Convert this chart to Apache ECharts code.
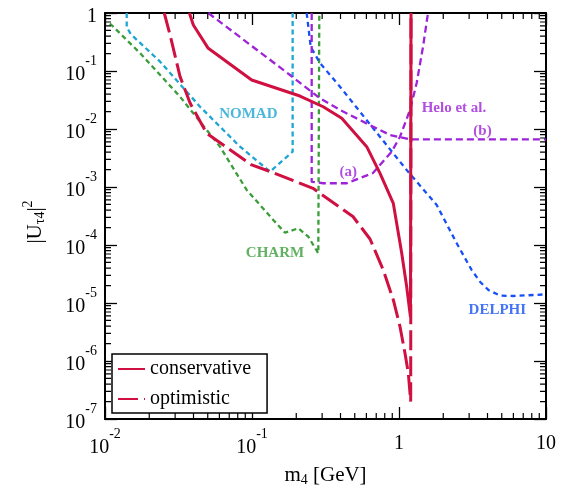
<!DOCTYPE html>
<html>
<head>
<meta charset="utf-8">
<script src="https://cdn.jsdelivr.net/npm/echarts@6/dist/echarts.min.js"></script>
<style>
  html, body { margin: 0; padding: 0; background: #fff; }
  #chart { width: 571px; height: 496px; }
</style>
</head>
<body>
<div id="chart"></div>
<script>
// [m4 in GeV, |U_tau4|^2]
var conservative = [[0.0375, 1], [0.0399, 0.62], [0.0504, 0.246], [0.0995, 0.070], [0.212, 0.037], [0.305, 0.0242],
  [0.408, 0.0153], [0.603, 0.00496], [0.743, 0.00172], [0.915, 5.2e-4], [1.043, 7.3e-5], [1.128, 1.9e-5],
  [1.197, 5.7e-6], [1.207, 1]];
var optimistic = [[0.0253, 1], [0.0277, 0.42], [0.0324, 0.080], [0.0379, 0.028], [0.0492, 0.0084], [0.0995, 0.0024],
  [0.133, 0.00184], [0.26, 9.5e-4], [0.486, 3.1e-4], [0.635, 1.27e-4], [0.782, 3.7e-5], [0.915, 1.13e-5],
  [1.016, 3.9e-6], [1.098, 1.37e-6], [1.157, 6.2e-7], [1.201, 2.0e-7], [1.207, 1]];
var nomad = [[0.01405, 1], [0.01405, 0.57], [0.0150, 0.43], [0.0237, 0.145], [0.0443, 0.0242], [0.0829, 0.00496],
  [0.1326, 0.00184], [0.189, 0.00406], [0.189, 1]];
var charm = [[0.0108, 0.66], [0.0173, 0.204], [0.0324, 0.036], [0.0606, 0.00496], [0.092, 8.9e-4], [0.1396, 2.7e-4],
  [0.1677, 1.63e-4], [0.2065, 1.94e-4], [0.2415, 1.39e-4], [0.2825, 7.2e-5], [0.287, 7.2e-5], [0.287, 1]];
var delphi = [[0.2355, 1], [0.2508, 0.262], [0.2902, 0.137], [0.3968, 0.0536], [0.665, 0.0104], [0.91, 0.00386],
  [1.128, 0.00196], [1.805, 4.9e-4], [2.469, 1.07e-4], [3.123, 3.7e-5], [3.556, 2.33e-5], [4.051, 1.68e-5],
  [4.864, 1.34e-5], [5.993, 1.32e-5], [10, 1.41e-5]];
var heloA = [[0.2547, 1], [0.2547, 0.00123], [0.304, 0.00116], [0.441, 0.00116], [0.665, 0.00174], [0.892, 0.00406],
  [1.016, 0.00737], [1.188, 0.0213], [1.319, 0.0621], [1.457, 0.262], [1.575, 1]];
var heloB = [[0.0504, 1], [0.1814, 0.0853], [0.2902, 0.0338], [0.3968, 0.0213], [0.665, 0.011], [0.8685, 0.00788],
  [1.188, 0.00665], [10, 0.00665]];

var labelText = ['NOMAD', 'CHARM', 'Helo et al.', '(b)', '(a)', 'DELPHI'];
var labelPos = [[0.0944, 0.01815], [0.1434, 7.2e-5], [2.366, 0.0228], [3.70, 0.00924], [0.452, 0.00177], [4.664, 7.57e-6]];

var xDecades = [0.01, 0.1, 1];
var yDecades = [1e-7, 1e-6, 1e-5, 1e-4, 1e-3, 1e-2, 1e-1];

var RED = '#d01040', CYAN = '#1ea5d2', GREEN = '#3a9d3a', BLUE = '#1650f5', PURPLE = '#9d22d8';
var labelColor = [CYAN, GREEN, PURPLE, PURPLE, PURPLE, BLUE];
var SERIF = "'Liberation Serif', 'Times New Roman', serif";

// minor ticks 2..9 per decade, as short segments on all four sides
// (6 px long: one x decade is 147 px, one y decade is 58 px)
var xMin = 0.01, xMax = 10, yMin = 1e-7, yMax = 1;
var fx = Math.pow(10, 6 / 147), fy = Math.pow(10, 6 / 58);
var minorSegs = [];
xDecades.forEach(function (d) {
  for (var k = 2; k <= 9; k++) {
    minorSegs.push([[d * k, yMin], [d * k, yMin * fy]]);
    minorSegs.push([[d * k, yMax], [d * k, yMax / fy]]);
  }
});
yDecades.forEach(function (d) {
  for (var k = 2; k <= 9; k++) {
    minorSegs.push([[xMin, d * k], [xMin * fx, d * k]]);
    minorSegs.push([[xMax, d * k], [xMax / fx, d * k]]);
  }
});

function powLabel(v) {
  var e = Math.round(Math.log10(v));
  if (e === 0) return '{b|1}';
  if (e === 1) return '{b|10}';
  return '{b|10}{s|' + e + '}';
}
var tickRich = {
  b: { fontSize: 20, fontFamily: SERIF, color: '#000', padding: [7, 0, 0, 0] },
  s: { fontSize: 14, fontFamily: SERIF, color: '#000', padding: [0, 0, 20, 0] }
};

function curve(name, data, color, width, dash, z) {
  return {
    name: name, type: 'line', data: data, symbol: 'none', clip: true, z: z || 2,
    lineStyle: { color: color, width: width, type: dash },
    itemStyle: { color: color }
  };
}

var axisLine = { show: true, onZero: false, lineStyle: { color: '#000', width: 2 } };
var majorTick = { show: true, inside: true, length: 12, lineStyle: { color: '#000', width: 1.3 } };

var series = minorSegs.map(function (seg) {
  return {
    name: 'minor', type: 'line', data: seg, symbol: 'none', silent: true, z: 5,
    lineStyle: { color: '#000', width: 1.2, type: 'solid' }, itemStyle: { color: '#000' }
  };
});
series.push(
  curve('NOMAD', nomad, CYAN, 2.3, [5, 3.5]),
  curve('CHARM', charm, GREEN, 2.3, [5, 3.5]),
  curve('DELPHI', delphi, BLUE, 2.3, [5, 4]),
  curve('Helo (a)', heloA, PURPLE, 2.3, [7, 4]),
  curve('Helo (b)', heloB, PURPLE, 2.3, [7, 4]),
  curve('optimistic', optimistic, RED, 3, [20, 6], 3),
  curve('conservative', conservative, RED, 3, 'solid', 3),
  {
    type: 'scatter', name: 'labels', symbolSize: 1, silent: true, z: 4,
    itemStyle: { color: 'rgba(0,0,0,0)' },
    data: labelPos.map(function (p, i) {
      return {
        value: p,
        label: {
          show: true, position: 'inside', formatter: labelText[i],
          color: labelColor[i], fontSize: 15, fontWeight: 'bold', fontFamily: SERIF
        }
      };
    })
  }
);

var chart = echarts.init(document.getElementById('chart'));
chart.setOption({
  animation: false,
  backgroundColor: '#fff',
  grid: { left: 105, right: 25, top: 13, bottom: 77 },
  legend: {
    data: ['conservative', 'optimistic'],
    orient: 'vertical', left: 112, top: 354,
    itemWidth: 27, itemHeight: 20, itemGap: 10,
    padding: [5, 16, 4, 5],
    borderColor: '#000', borderWidth: 1.5, backgroundColor: '#fff',
    itemStyle: { opacity: 0, borderWidth: 0 },
    textStyle: { fontSize: 20, fontFamily: SERIF, color: '#000' }
  },
  xAxis: [{
    type: 'log', logBase: 10, min: xMin, max: xMax,
    name: '{a|m}{t|4}{a| [GeV]}', nameLocation: 'middle', nameGap: 44,
    nameTextStyle: { rich: {
      a: { fontSize: 21, fontFamily: SERIF, color: '#000' },
      t: { fontSize: 14, fontFamily: SERIF, color: '#000', padding: [10, 0, 0, 0] }
    } },
    axisLine: axisLine, axisTick: majorTick, splitLine: { show: false },
    axisLabel: { margin: 8, formatter: powLabel, rich: tickRich }
  }, {
    type: 'log', logBase: 10, min: xMin, max: xMax, position: 'top',
    axisLine: axisLine, axisTick: majorTick, splitLine: { show: false }, axisLabel: { show: false }
  }],
  yAxis: [{
    type: 'log', logBase: 10, min: yMin, max: yMax,
    name: '{a||U}{t|τ4}{a||}{p|2}', nameLocation: 'middle', nameGap: 56,
    nameTextStyle: { padding: [0, 12, 0, 0], rich: {
      a: { fontSize: 21, fontFamily: SERIF, color: '#000' },
      t: { fontSize: 14, fontFamily: SERIF, color: '#000', padding: [10, 0, 0, 0] },
      p: { fontSize: 14, fontFamily: SERIF, color: '#000', padding: [0, 0, 14, 0] }
    } },
    axisLine: axisLine, axisTick: majorTick, splitLine: { show: false },
    axisLabel: { margin: 8, formatter: powLabel, rich: tickRich }
  }, {
    type: 'log', logBase: 10, min: yMin, max: yMax, position: 'right',
    axisLine: axisLine, axisTick: majorTick, splitLine: { show: false }, axisLabel: { show: false }
  }],
  series: series
});
</script>
</body>
</html>
